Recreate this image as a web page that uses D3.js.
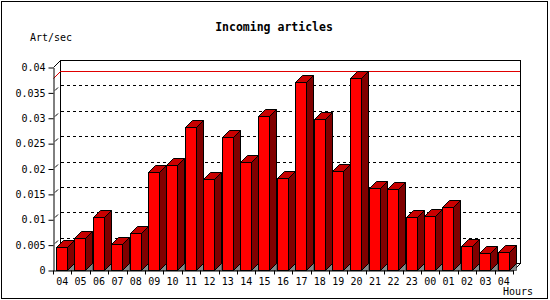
<!DOCTYPE html>
<html>
<head>
<meta charset="utf-8">
<script src="https://cdn.jsdelivr.net/npm/d3@7"></script>
<style>
  body { margin: 0; background: #fff; }
  svg { display: block; }
  text { font-family: "DejaVu Sans Mono", monospace; fill: #000; }
</style>
</head>
<body>
<svg id="chart" width="550" height="300"></svg>
<script>
// hours on the x axis (last 24h + 1)
const hours = ["04","05","06","07","08","09","10","11","12","13","14","15","16",
               "17","18","19","20","21","22","23","00","01","02","03","04"];
// articles per second
const rates = [0.0046, 0.0064, 0.0104, 0.0051, 0.0073, 0.0193, 0.0207, 0.0282,
               0.0179, 0.0262, 0.0213, 0.0303, 0.0181, 0.0370, 0.0297, 0.0195,
               0.0378, 0.0161, 0.0159, 0.0104, 0.0106, 0.0124, 0.0047, 0.0033, 0.0035];
const yTicks = [0, 0.005, 0.01, 0.015, 0.02, 0.025, 0.03, 0.035, 0.04];

const svg = d3.select("#chart");
const plotLeft = 53, plotRight = 513, plotBottom = 270, plotTop = 67;
const dx = 7, dy = 7;   // 3d depth

const x = d3.scaleBand().domain(d3.range(hours.length)).range([plotLeft, plotRight]);
const y = d3.scaleLinear().domain([0, 0.04]).range([plotBottom, plotTop]);

// outer frame
svg.append("rect")
  .attr("x", 1.5).attr("y", 1.5).attr("width", 546).attr("height", 297)
  .attr("fill", "white").attr("stroke", "black");

// back wall
svg.append("rect")
  .attr("x", plotLeft + dx + 0.5).attr("y", plotTop - dy + 0.5)
  .attr("width", plotRight - plotLeft).attr("height", plotBottom - plotTop)
  .attr("fill", "white").attr("stroke", "black");

// grid lines on back wall + little diagonals
yTicks.slice(1, -1).forEach(function(t){
  let yy = Math.round(y(t)) + 0.5;
  svg.append("line")
    .attr("x1", plotLeft + dx + 1).attr("x2", plotRight + dx)
    .attr("y1", yy - dy).attr("y2", yy - dy)
    .attr("stroke", "black").attr("stroke-dasharray", "3,3");
  svg.append("line")
    .attr("x1", plotLeft + 2).attr("y1", yy - 2)
    .attr("x2", plotLeft + 5).attr("y2", yy - 5)
    .attr("stroke", "black");
});

// max line
let ymax = Math.round(y(d3.max(rates))) + 0.5;
svg.append("polyline")
  .attr("points", [[plotLeft + 0.5, ymax], [plotLeft + dx + 0.5, ymax - dy], [plotRight + dx, ymax - dy]].join(" "))
  .attr("fill", "none").attr("stroke", "#e00000");

// top-left / bottom-right diagonals
svg.append("line")
  .attr("x1", plotLeft + 0.5).attr("y1", plotTop + 0.5)
  .attr("x2", plotLeft + dx + 0.5).attr("y2", plotTop - dy + 0.5)
  .attr("stroke", "black");
svg.append("line")
  .attr("x1", plotRight + 0.5).attr("y1", plotBottom + 0.5)
  .attr("x2", plotRight + dx + 0.5).attr("y2", plotBottom - dy + 0.5)
  .attr("stroke", "black");

// bars
const bw = 11;
let bars = svg.selectAll("g.bar")
  .data(rates)
  .enter().append("g")
  .attr("class", "bar");

bars.each(function(d, i){
  let g = d3.select(this);
  let x0 = Math.round(x(i) + 3) + 0.5;
  let x1 = x0 + bw;
  let y0 = Math.round(y(d)) + 0.5;
  let yb = plotBottom + 0.5;
  // floor shadow
  g.append("polygon")
    .attr("points", [[x1, yb], [x1 + dx, yb - dy], [x1 + dx, yb]].join(" "))
    .attr("fill", "#888").attr("stroke", "black").attr("stroke-width", 0.5);
  // side
  g.append("polygon")
    .attr("points", [[x1, y0], [x1 + dx, y0 - dy], [x1 + dx, yb - dy], [x1, yb]].join(" "))
    .attr("fill", "#800000").attr("stroke", "black");
  // top
  g.append("polygon")
    .attr("points", [[x0, y0], [x0 + dx, y0 - dy], [x1 + dx, y0 - dy], [x1, y0]].join(" "))
    .attr("fill", "#c80000").attr("stroke", "black");
  // front
  g.append("rect")
    .attr("x", x0).attr("y", y0).attr("width", bw).attr("height", yb - y0)
    .attr("fill", "#ff0000").attr("stroke", "black");
});

// y axis
let yAxis = svg.append("g")
  .attr("transform", "translate(" + (plotLeft + 0.5) + ",0.5)")
  .call(d3.axisLeft(y).tickValues(yTicks).tickSize(5).tickSizeOuter(0).tickPadding(3)
          .tickFormat(d => String(+d.toFixed(3))));
yAxis.attr("font-family", null).attr("font-size", null);
yAxis.selectAll("text").style("font-size", "10px");
yAxis.selectAll("line, path").attr("stroke", "black");

// x axis: labels at centres, ticks at boundaries
let xAxis = svg.append("g")
  .attr("transform", "translate(0," + (plotBottom + 0.5) + ")")
  .call(d3.axisBottom(x).tickSize(0).tickPadding(7).tickFormat(i => hours[i]));
xAxis.attr("font-family", null).attr("font-size", null);
xAxis.selectAll("text").style("font-size", "10px");
xAxis.select(".domain").attr("stroke", "black");
xAxis.selectAll(".bound")
  .data(d3.range(hours.length + 1))
  .enter().append("line")
  .attr("class", "bound")
  .attr("x1", i => Math.round(plotLeft + i * x.bandwidth()) + 0.5)
  .attr("x2", i => Math.round(plotLeft + i * x.bandwidth()) + 0.5)
  .attr("y1", 0).attr("y2", 4)
  .attr("stroke", "black");

// texts
svg.append("text")
  .attr("x", 274).attr("y", 31)
  .attr("text-anchor", "middle")
  .style("font-size", "11.5px").style("font-weight", "bold")
  .text("Incoming articles");
svg.append("text")
  .attr("x", 30).attr("y", 41)
  .style("font-size", "10px")
  .text("Art/sec");
svg.append("text")
  .attr("x", 503).attr("y", 295)
  .style("font-size", "10px")
  .text("Hours");
</script>
</body>
</html>
